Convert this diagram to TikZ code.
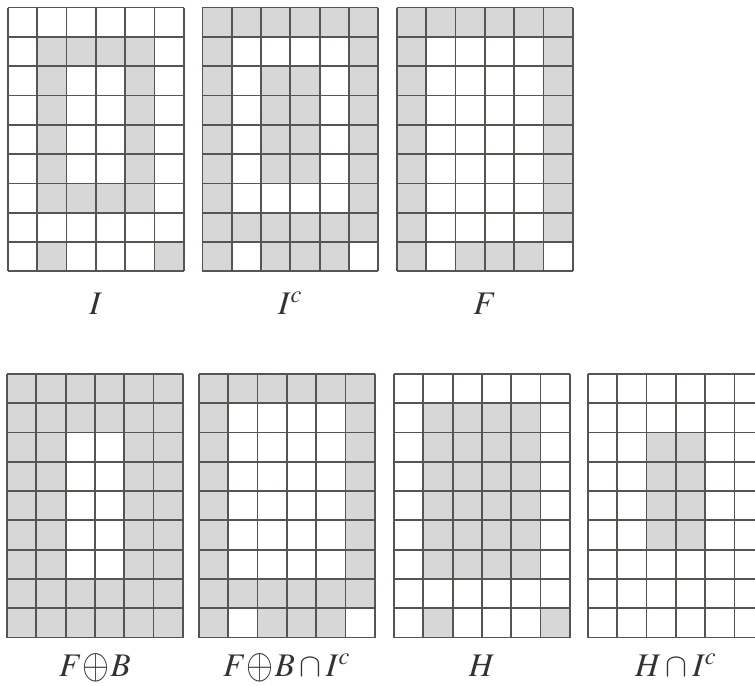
\documentclass[tikz,border=0pt]{standalone}
\usepackage{mathptmx}
\usepackage{tikz}
\usetikzlibrary{positioning}
\definecolor{cellgray}{RGB}{215,215,215}
\definecolor{gridline}{RGB}{88,84,80}
\newcommand{\dil}{\mathbin{\raisebox{-0.12ex}{\scalebox{1.05}[1.3]{$\oplus$}}}}

% one 6x9 pixel grid, #1/#2 = top left corner, #3 = rows (1 = gray)
\newcommand{\pixgrid}[3]{%
  \begin{scope}[shift={(#1,#2)}]
    \foreach \row [count=\r] in {#3}{
      \foreach \v [count=\c] in \row{
        \ifnum\v=1 \fill[cellgray] (\c-1,1-\r) rectangle (\c,-\r); \fi
      }
    }
    \foreach \i in {0,...,6} \draw[gridline,line width=0.85pt] (\i,0) -- (\i,-9);
    \foreach \j in {0,...,9} \draw[gridline,line width=0.85pt] (0,-\j) -- (6,-\j);
  \end{scope}}

\begin{document}
\begin{tikzpicture}[x=0.5cm,y=0.5cm]
  \tikzstyle{lbl}=[anchor=base,inner sep=0pt,text=black!80,
                   font=\fontsize{16}{19}\selectfont]
  \useasboundingbox (0,0) rectangle (25.77,-23.41);

  % top row
  \pixgrid{0.27}{-0.26}{{0,0,0,0,0,0},{0,1,1,1,1,0},{0,1,0,0,1,0},{0,1,0,0,1,0},
    {0,1,0,0,1,0},{0,1,0,0,1,0},{0,1,1,1,1,0},{0,0,0,0,0,0},{0,1,0,0,0,1}}
  \pixgrid{6.91}{-0.26}{{1,1,1,1,1,1},{1,0,0,0,0,1},{1,0,1,1,0,1},{1,0,1,1,0,1},
    {1,0,1,1,0,1},{1,0,1,1,0,1},{1,0,0,0,0,1},{1,1,1,1,1,1},{1,0,1,1,1,0}}
  \pixgrid{13.55}{-0.26}{{1,1,1,1,1,1},{1,0,0,0,0,1},{1,0,0,0,0,1},{1,0,0,0,0,1},
    {1,0,0,0,0,1},{1,0,0,0,0,1},{1,0,0,0,0,1},{1,0,0,0,0,1},{1,0,1,1,1,0}}

  % bottom row
  \pixgrid{0.24}{-12.76}{{1,1,1,1,1,1},{1,1,1,1,1,1},{1,1,0,0,1,1},{1,1,0,0,1,1},
    {1,1,0,0,1,1},{1,1,0,0,1,1},{1,1,0,0,1,1},{1,1,1,1,1,1},{1,1,1,1,1,1}}
  \pixgrid{6.79}{-12.76}{{1,1,1,1,1,1},{1,0,0,0,0,1},{1,0,0,0,0,1},{1,0,0,0,0,1},
    {1,0,0,0,0,1},{1,0,0,0,0,1},{1,0,0,0,0,1},{1,1,1,1,1,1},{1,0,1,1,1,0}}
  \pixgrid{13.45}{-12.76}{{0,0,0,0,0,0},{0,1,1,1,1,0},{0,1,1,1,1,0},{0,1,1,1,1,0},
    {0,1,1,1,1,0},{0,1,1,1,1,0},{0,1,1,1,1,0},{0,0,0,0,0,0},{0,1,0,0,0,1}}
  \pixgrid{20.07}{-12.76}{{0,0,0,0,0,0},{0,0,0,0,0,0},{0,0,1,1,0,0},{0,0,1,1,0,0},
    {0,0,1,1,0,0},{0,0,1,1,0,0},{0,0,0,0,0,0},{0,0,0,0,0,0},{0,0,0,0,0,0}}

  \node[lbl] (I)   at (3.27,-10.75)  {$I$};
  \node[lbl] (Ic)  at (9.91,-10.75)  {$I^c$};
  \node[lbl] (F)   at (16.55,-10.75) {$F$};
  \node[lbl] (FB)  at (3.24,-23.1)   {$F\!\dil\! B$};
  \node[lbl] (FBI) at (9.79,-23.1)   {$F\!\dil\! B\cap I^c$};
  \node[lbl] (H)   at (16.45,-23.1)  {$H$};
  \node[lbl] (HI)  at (23.07,-23.1)  {$H\cap I^c$};
\end{tikzpicture}
\end{document}
